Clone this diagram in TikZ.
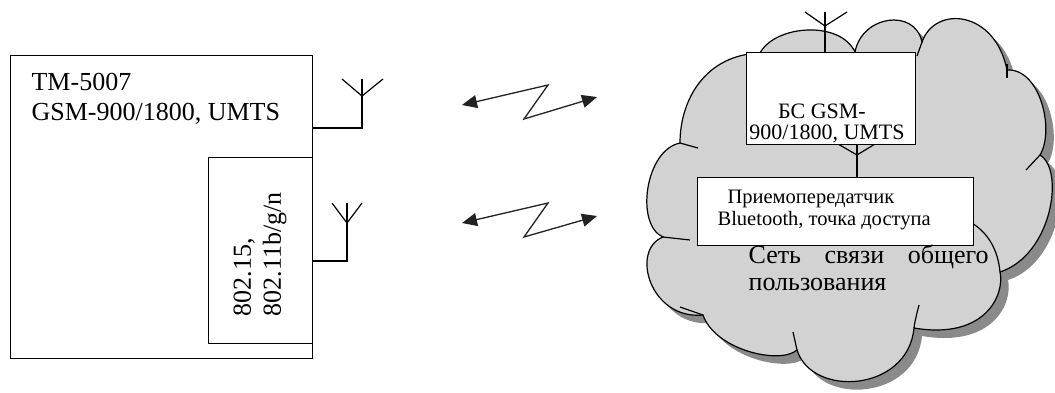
\documentclass[tikz,border=0pt]{standalone}
\usepackage{fontspec}
\setmainfont{Liberation Serif}
\usetikzlibrary{arrows.meta}
\definecolor{cloudfill}{HTML}{D2D2D2}
\definecolor{cloudshadow}{HTML}{8A8A8A}
\definecolor{tipcol}{HTML}{222222}
\begin{document}
\begin{tikzpicture}[x=1pt,y=-1pt,line width=1.2pt,
  box/.style={draw, fill=white, inner sep=0pt, anchor=north west},
  lbl/.style={inner sep=0pt, anchor=base west},
  bigtxt/.style={font=\fontsize{26}{30}\selectfont},
  bstxt/.style={font=\fontsize{22}{21}\selectfont},
  trtxt/.style={font=\fontsize{20.5}{22}\selectfont},
  cltxt/.style={font=\fontsize{26}{27}\selectfont},
  zz/.style={{Triangle[length=15pt,width=13pt]}-{Triangle[length=15pt,width=13pt]}, line width=1.3pt, draw=tipcol},
  wire/.style={line width=1.2pt}]
\useasboundingbox (0,0) rectangle (1055,392);
\def\cloudpath{(680,143) .. controls (680,100) and (705,55) .. (760,53)
 .. controls (775,25) and (840,20) .. (855,52)
 .. controls (862,15) and (915,8) .. (922,42)
 .. controls (935,5) and (995,10) .. (1007,70)
 .. controls (1040,68) and (1055,130) .. (1040,155)
 .. controls (1065,170) and (1052,255) .. (1000,272)
 .. controls (1005,295) and (985,340) .. (914,328)
 .. controls (908,392) and (812,398) .. (797,350)
 .. controls (780,365) and (715,350) .. (703,315)
 .. controls (650,320) and (630,250) .. (663,237)
 .. controls (635,225) and (645,150) .. (680,143) -- cycle}
% cloud shadow and cloud
\begin{scope}[transform canvas={xshift=8pt,yshift=-8pt}]
\fill[cloudshadow] \cloudpath;
\end{scope}
\filldraw[fill=cloudfill, draw=black, line width=1.2pt] \cloudpath;
% interior arcs of the cloud
\draw (1007,64) -- (1007,78);
\draw (1040,155) -- (1026,170);
\draw (1000,272) .. controls (998,250) and (988,232) .. (970,222);
\draw (914,328) .. controls (915,320) and (917,313) .. (919,305);
\draw (797,350) -- (793,332);
\draw (703,315) -- (680,307);
\draw (663,237) -- (690,240);
\draw (680,143) -- (698,148);
\draw (922,42) -- (917,56);

% terminal
\node[box, minimum width=302pt, minimum height=303pt] (main) at (10,55) {};
\node[box, minimum width=104pt, minimum height=186pt] (wifi) at (208,157) {};
\node[lbl, bigtxt] (t1) at (31,90) {TM-5007};
\node[lbl, bigtxt] (t2) at (31,120) {GSM-900/1800, UMTS};
\node[rotate=90, anchor=west, align=left, inner sep=0pt, bigtxt] (t3) at (260,317) {802.15,\\802.11b/g/n};

% antennas of the terminal
\coordinate (g0) at (312,128);
\coordinate (g1) at (362,128);
\coordinate (g2) at (362,79);
\coordinate (g3) at (362,96);
\coordinate (g4) at (342,79);
\coordinate (g5) at (383,79);
\draw[wire] (g0) -- (g1) -- (g2);
\draw[wire] (g4) -- (g3) -- (g5);
\coordinate (w0) at (312,261);
\coordinate (w1) at (347,261);
\coordinate (w2) at (347,203);
\coordinate (w3) at (347,223);
\coordinate (w4) at (332,203);
\coordinate (w5) at (362,203);
\draw[wire] (w0) -- (w1) -- (w2);
\draw[wire] (w4) -- (w3) -- (w5);

% radio links
\coordinate (a1l) at (462,105);
\coordinate (a1p) at (548,85);
\coordinate (a1q) at (524,119);
\coordinate (a1r) at (597,97);
\draw[zz] (a1l) -- (a1p) -- (a1q) -- (a1r);
\coordinate (a2l) at (462,223);
\coordinate (a2p) at (548,203);
\coordinate (a2q) at (524,237);
\coordinate (a2r) at (597,216);
\draw[zz] (a2l) -- (a2p) -- (a2q) -- (a2r);

% base station antenna
\coordinate (b0) at (825,52);
\coordinate (b1) at (825,12);
\coordinate (b2) at (825,26);
\coordinate (b3) at (805,12);
\coordinate (b4) at (847,12);
\draw[wire] (b0) -- (b1);
\draw[wire] (b3) -- (b2) -- (b4);
% link between boxes
\coordinate (m0) at (857,144);
\coordinate (m1) at (857,177);
\coordinate (m2) at (857,155);
\coordinate (m3) at (838,144);
\coordinate (m4) at (875,144);
\draw[wire] (m0) -- (m1);
\draw[wire] (m3) -- (m2) -- (m4);

% boxes in the cloud
\node[box, minimum width=169pt, minimum height=92pt] (bs) at (746,52) {};
\node[box, minimum width=276pt, minimum height=68pt] (tr) at (697,177) {};
\node[bstxt, inner sep=0pt, anchor=base] (bs1) at (822,118) {БС GSM-};
\node[bstxt, inner sep=0pt, anchor=base] (bs2) at (827,139) {900/1800, UMTS};
\node[lbl, trtxt] (tr1) at (727,203) {Приемопередатчик};
\node[lbl, trtxt] (tr2) at (717,225) {Bluetooth, точка доступа};
\node[lbl, cltxt] (c1) at (748,263) {\hbox to 240pt{Сеть\hfil связи\hfil общего}};
\node[lbl, cltxt] (c2) at (748,290) {пользования};
\end{tikzpicture}
\end{document}
